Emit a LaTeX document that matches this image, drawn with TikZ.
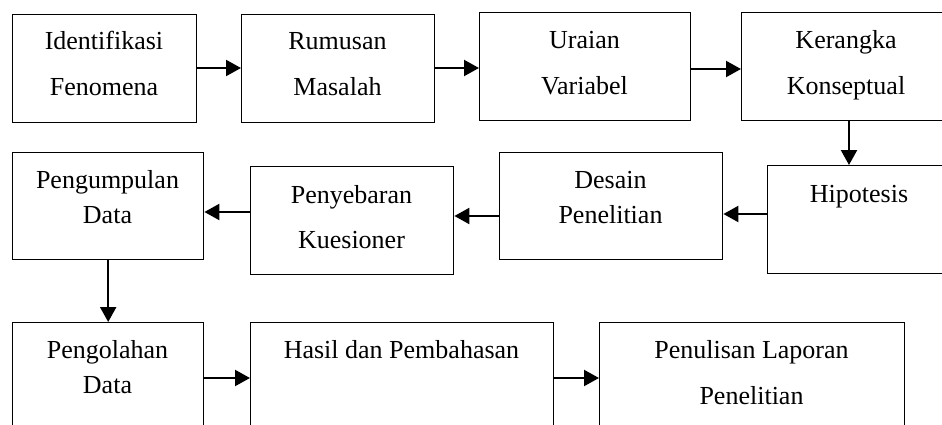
\documentclass[tikz,border=0pt]{standalone}
\usepackage{fontspec}
\setmainfont{Liberation Serif}
\usetikzlibrary{arrows.meta}
\begin{document}
\begin{tikzpicture}[x=1pt,y=-1pt,
  box/.style={draw=black,line width=1.4pt,rectangle,inner sep=0pt},
  txt/.style={anchor=base,inner sep=0pt,font=\fontsize{26}{30}\selectfont},
  arr/.style={draw=black,line width=2.2pt,-{Triangle[length=15pt,width=16pt]}}]
\useasboundingbox (0,0) rectangle (942,425);
\clip (0,0) rectangle (942,425);
% boxes
\node[box,anchor=north west,minimum width=184pt,minimum height=108pt] (b1) at (12,14) {};
\node[box,anchor=north west,minimum width=193pt,minimum height=108pt] (b2) at (241,14) {};
\node[box,anchor=north west,minimum width=211pt,minimum height=108pt] (b3) at (479,12) {};
\node[box,anchor=north west,minimum width=210pt,minimum height=108pt] (b4) at (741,12) {};
\node[box,anchor=north west,minimum width=184pt,minimum height=108pt] (b5) at (767,165) {};
\node[box,anchor=north west,minimum width=223pt,minimum height=107pt] (b6) at (499,152) {};
\node[box,anchor=north west,minimum width=203pt,minimum height=108pt] (b7) at (250,166) {};
\node[box,anchor=north west,minimum width=191pt,minimum height=107pt] (b8) at (12,152) {};
\node[box,anchor=north west,minimum width=191pt,minimum height=130pt] (b9) at (12,322) {};
\node[box,anchor=north west,minimum width=303pt,minimum height=130pt] (b10) at (250,322) {};
\node[box,anchor=north west,minimum width=305pt,minimum height=130pt] (b11) at (599,322) {};
% texts
\node[txt] (t1a) at (104,50) {Identifikasi};
\node[txt] (t1b) at (104,96) {Fenomena};
\node[txt] (t2a) at (337.5,50) {Rumusan};
\node[txt] (t2b) at (337.5,96) {Masalah};
\node[txt] (t3a) at (584.5,49) {Uraian};
\node[txt] (t3b) at (584.5,95) {Variabel};
\node[txt] (t4a) at (846,49) {Kerangka};
\node[txt] (t4b) at (846,95) {Konseptual};
\node[txt] (t5a) at (859,202) {Hipotesis};
\node[txt] (t6a) at (610.5,188) {Desain};
\node[txt] (t6b) at (610.5,223) {Penelitian};
\node[txt] (t7a) at (351.5,203) {Penyebaran};
\node[txt] (t7b) at (351.5,248) {Kuesioner};
\node[txt] (t8a) at (107.5,188) {Pengumpulan};
\node[txt] (t8b) at (107.5,223) {Data};
\node[txt] (t9a) at (107.5,358) {Pengolahan};
\node[txt] (t9b) at (107.5,393) {Data};
\node[txt] (t10a) at (401.5,358) {Hasil dan Pembahasan};
\node[txt] (t11a) at (751.5,358) {Penulisan Laporan};
\node[txt] (t11b) at (751.5,404) {Penelitian};
% connectors
\coordinate (y1) at (0,68);
\coordinate (y2) at (0,69);
\coordinate (y5) at (0,214);
\coordinate (y6) at (0,216);
\coordinate (y7) at (0,212);
\coordinate (y9) at (0,378);
\coordinate (x4) at (849,0);
\draw[arr] (b1.east |- y1) -- (b2.west |- y1);
\draw[arr] (b2.east |- y1) -- (b3.west |- y1);
\draw[arr] (b3.east |- y2) -- (b4.west |- y2);
\draw[arr] (b4.south -| x4) -- (b5.north -| x4);
\draw[arr] (b5.west |- y5) -- (b6.east |- y5);
\draw[arr] (b6.west |- y6) -- (b7.east |- y6);
\draw[arr] (b7.west |- y7) -- (b8.east |- y7);
\draw[arr] (b8.south) -- (b9.north);
\draw[arr] (b9.east |- y9) -- (b10.west |- y9);
\draw[arr] (b10.east |- y9) -- (b11.west |- y9);
\end{tikzpicture}
\end{document}
